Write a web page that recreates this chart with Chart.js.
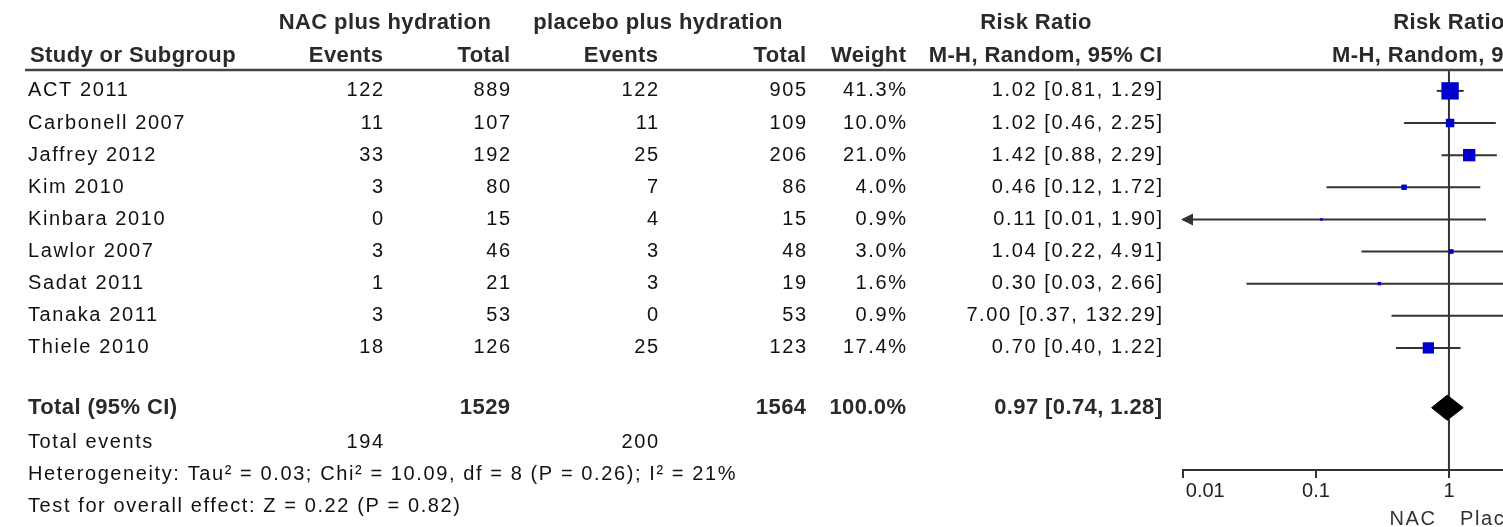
<!DOCTYPE html>
<html>
<head>
<meta charset="utf-8">
<script src="https://cdn.jsdelivr.net/npm/chart.js@4/dist/chart.umd.min.js"></script>
<style>
  html, body { margin: 0; padding: 0; background: #fff; overflow: hidden; }
  canvas { display: block; }
</style>
</head>
<body>
<canvas id="forest" width="1503" height="527"></canvas>
<script>
// Study data
const studies = ['ACT 2011', 'Carbonell 2007', 'Jaffrey 2012', 'Kim 2010', 'Kinbara 2010', 'Lawlor 2007', 'Sadat 2011', 'Tanaka 2011', 'Thiele 2010'];
const nacEvents = [122, 11, 33, 3, 0, 3, 1, 3, 18];
const nacTotal = [889, 107, 192, 80, 15, 46, 21, 53, 126];
const plcEvents = [122, 11, 25, 7, 4, 3, 3, 0, 25];
const plcTotal = [905, 109, 206, 86, 15, 48, 19, 53, 123];
const weights = [41.3, 10.0, 21.0, 4.0, 0.9, 3.0, 1.6, 0.9, 17.4];
const riskRatio = [1.02, 1.02, 1.42, 0.46, 0.11, 1.04, 0.30, 7.00, 0.70];
const ciLow = [0.81, 0.46, 0.88, 0.12, 0.01, 0.22, 0.03, 0.37, 0.40];
const ciHigh = [1.29, 2.25, 2.29, 1.72, 1.90, 4.91, 2.66, 132.29, 1.22];

// Pooled result
const pooled = [0.97, 0.74, 1.28];
const totalEvents = [194, 200];
const totalN = [1529, 1564];
const heterogeneity = 'Heterogeneity: Tau\u00b2 = 0.03; Chi\u00b2 = 10.09, df = 8 (P = 0.26); I\u00b2 = 21%';
const overallEffect = 'Test for overall effect: Z = 0.22 (P = 0.82)';

// Axis
const axisTicks = [0.01, 0.1, 1];
const axisLabels = ['0.01', '0.1', '1'];

// layout (row positions in y units)
const yMin = -0.65, yMax = 11.8;
const totalRow = 9.86, eventsRow = 10.94, hetRow = 11.93, testRow = 12.95;
const diamondHalf = 0.39;

const lineColor = '#333';
const fmt = v => v.toFixed(2);

// CI whiskers, one dataset per study
const ciSets = studies.map((s, i) => ({
    data: [{ x: ciLow[i], y: i }, { x: ciHigh[i], y: i }],
    showLine: true,
    borderColor: lineColor,
    borderWidth: 2,
    pointRadius: 0,
    order: 2
}));

const datasets = [
    {
        // study squares
        data: riskRatio.map((v, i) => ({ x: v, y: i })),
        pointStyle: 'rect',
        pointRadius: weights.map(w => 2.7 * Math.sqrt(w) / Math.SQRT2),
        backgroundColor: '#0000cc',
        borderColor: '#0000cc',
        borderWidth: 0,
        order: 0
    },
    {
        // pooled diamond
        data: [
            { x: pooled[1], y: totalRow },
            { x: pooled[0], y: totalRow - diamondHalf },
            { x: pooled[2], y: totalRow },
            { x: pooled[0], y: totalRow + diamondHalf },
            { x: pooled[1], y: totalRow }
        ],
        showLine: true,
        fill: 'shape',
        backgroundColor: '#000',
        borderColor: '#000',
        borderWidth: 1,
        pointRadius: 0,
        order: 0
    },
    {
        // line of no effect
        data: [{ x: 1, y: yMin }, { x: 1, y: yMax }],
        showLine: true,
        borderColor: lineColor,
        borderWidth: 2,
        pointRadius: 0,
        order: 3
    }
].concat(ciSets);

// table text + header rule + arrows
const tablePlugin = {
    id: 'table',
    afterDraw(chart) {
        const ctx = chart.ctx;
        const ys = chart.scales.y;
        const xs = chart.scales.x;
        const area = chart.chartArea;
        const reg = '20px "Liberation Sans", Arial, sans-serif';
        const bold = 'bold 22px "Liberation Sans", Arial, sans-serif';

        function text(str, x, y, align, isBold, color) {
            const sp = isBold ? 0.4 : 1.6;
            ctx.save();
            ctx.font = isBold ? bold : reg;
            if ('letterSpacing' in ctx) ctx.letterSpacing = sp + 'px';
            ctx.fillStyle = color || (isBold ? '#2a2a2a' : '#111');
            ctx.textAlign = align;
            ctx.textBaseline = 'middle';
            ctx.fillText(str, align === 'right' ? x + sp : x, y);
            ctx.restore();
        }

        // headers
        const forestMid = xs.getPixelForValue(1);
        text('NAC plus hydration', 385, 23, 'center', true);
        text('placebo plus hydration', 658, 23, 'center', true);
        text('Risk Ratio', 1036, 23, 'center', true);
        text('Risk Ratio', forestMid, 23, 'center', true);
        text('Study or Subgroup', 30, 56, 'left', true);
        text('Events', 383, 56, 'right', true);
        text('Total', 510, 56, 'right', true);
        text('Events', 658, 56, 'right', true);
        text('Total', 806, 56, 'right', true);
        text('Weight', 906, 56, 'right', true);
        text('M-H, Random, 95% CI', 1162, 56, 'right', true);
        text('M-H, Random, 95% CI', forestMid, 56, 'center', true);

        ctx.save();
        ctx.strokeStyle = '#444';
        ctx.lineWidth = 2.5;
        ctx.beginPath();
        ctx.moveTo(25, area.top);
        ctx.lineTo(chart.width, area.top);
        ctx.stroke();
        ctx.restore();

        // study rows
        studies.forEach((s, i) => {
            const y = ys.getPixelForValue(i);
            text(s, 28, y, 'left');
            text(String(nacEvents[i]), 383, y, 'right');
            text(String(nacTotal[i]), 510, y, 'right');
            text(String(plcEvents[i]), 658, y, 'right');
            text(String(plcTotal[i]), 806, y, 'right');
            text(weights[i].toFixed(1) + '%', 906, y, 'right');
            text(fmt(riskRatio[i]) + ' [' + fmt(ciLow[i]) + ', ' + fmt(ciHigh[i]) + ']', 1162, y, 'right');

            // arrow when CI runs off the left of the scale
            if (ciLow[i] <= xs.min) {
                const x0 = xs.getPixelForValue(xs.min);
                ctx.save();
                ctx.fillStyle = lineColor;
                ctx.beginPath();
                ctx.moveTo(x0 - 2, y);
                ctx.lineTo(x0 + 10, y - 6);
                ctx.lineTo(x0 + 10, y + 6);
                ctx.closePath();
                ctx.fill();
                ctx.restore();
            }
        });

        // total rows
        let y = ys.getPixelForValue(totalRow);
        text('Total (95% CI)', 28, y, 'left', true);
        text(String(totalN[0]), 510, y, 'right', true);
        text(String(totalN[1]), 806, y, 'right', true);
        text('100.0%', 906, y, 'right', true);
        text(fmt(pooled[0]) + ' [' + fmt(pooled[1]) + ', ' + fmt(pooled[2]) + ']', 1162, y, 'right', true);

        y = ys.getPixelForValue(eventsRow);
        text('Total events', 28, y, 'left');
        text(String(totalEvents[0]), 383, y, 'right');
        text(String(totalEvents[1]), 658, y, 'right');

        text(heterogeneity, 28, ys.getPixelForValue(hetRow), 'left');
        text(overallEffect, 28, ys.getPixelForValue(testRow), 'left');

        // favours labels
        text('NAC', forestMid - 14, 519, 'right', false, '#333');
        text('Placebo', forestMid + 11, 519, 'left', false, '#333');
    }
};

new Chart(document.getElementById('forest'), {
    type: 'scatter',
    data: { datasets: datasets },
    options: {
        responsive: false,
        animation: false,
        devicePixelRatio: 1,
        layout: { autoPadding: false, padding: { left: 1183, right: 0, top: 70, bottom: 0 } },
        plugins: { legend: { display: false }, tooltip: { enabled: false } },
        scales: {
            x: {
                type: 'logarithmic',
                min: 0.01,
                max: 2.55,
                afterBuildTicks: scale => { scale.ticks = axisTicks.map(v => ({ value: v })); },
                afterFit: scale => {
                    scale.height = 57;
                    scale.paddingLeft = 0;
                    scale.paddingRight = 0;
                },
                ticks: {
                    autoSkip: false,
                    maxRotation: 0,
                    color: '#222',
                    font: { family: '"Liberation Sans", Arial, sans-serif', size: 20 },
                    padding: 1,
                    // first label sits to the right of its tick, as in RevMan
                    callback: (v, i) => (i === 0 ? '\u2007\u2007\u2007\u2007' : '') + axisLabels[i]
                },
                grid: { drawOnChartArea: false, drawTicks: true, tickLength: 8, color: lineColor, lineWidth: 2 },
                border: { display: true, color: lineColor, width: 2 }
            },
            y: {
                type: 'linear',
                display: false,
                reverse: true,
                min: yMin,
                max: yMax
            }
        }
    },
    plugins: [tablePlugin]
});
</script>
</body>
</html>
